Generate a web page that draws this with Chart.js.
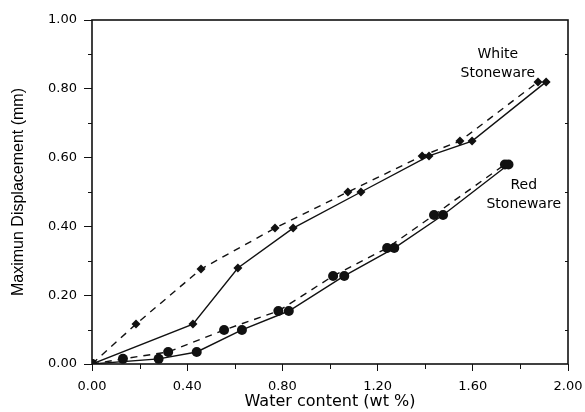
<!DOCTYPE html>
<html><head><meta charset="utf-8">
<script src="https://cdn.jsdelivr.net/npm/chart.js@4/dist/chart.umd.min.js"></script>
<style>html,body{margin:0;padding:0;background:#fff}#wrap{width:585px;height:412px}</style>
</head><body><div id="wrap"><canvas id="c" width="585" height="412"></canvas></div>
<script>
// White Stoneware
const whiteSolidX = [0, 0.424, 0.613, 0.845, 1.13, 1.416, 1.597, 1.908];
const whiteSolidY = [0, 0.116, 0.279, 0.395, 0.50, 0.605, 0.648, 0.82];
const whiteDashX = [0, 0.185, 0.458, 0.769, 1.075, 1.387, 1.546, 1.874];
const whiteDashY = [0, 0.116, 0.276, 0.395, 0.50, 0.605, 0.648, 0.82];
// Red Stoneware
const redSolidX = [0, 0.28, 0.44, 0.63, 0.827, 1.06, 1.27, 1.475, 1.75];
const redSolidY = [0, 0.015, 0.035, 0.099, 0.154, 0.256, 0.337, 0.433, 0.58];
const redDashX = [0, 0.13, 0.32, 0.555, 0.783, 1.013, 1.24, 1.437, 1.735];
const redDashY = [0, 0.015, 0.035, 0.099, 0.154, 0.256, 0.337, 0.433, 0.58];
const xTicks = [0, 0.4, 0.8, 1.2, 1.6, 2.0];
const yTicks = [0, 0.2, 0.4, 0.6, 0.8, 1.0];
const labels = [
  {text: 'White', x: 1.705, y: 0.90},
  {text: 'Stoneware', x: 1.705, y: 0.845},
  {text: 'Red', x: 1.814, y: 0.52},
  {text: 'Stoneware', x: 1.814, y: 0.465}
];

const pts = (xs, ys) => xs.map((x, i) => ({x, y: ys[i]}));
const ink = '#111';
const wide = '"DejaVu Sans", sans-serif';

const frame = {
  id: 'frame',
  afterDraw(chart) {
    const {ctx, chartArea: a, scales: {x, y}} = chart;
    ctx.save();
    ctx.strokeStyle = ink; ctx.lineWidth = 1.6;
    ctx.strokeRect(a.left, a.top, a.right - a.left, a.bottom - a.top);
    ctx.lineWidth = 1;
    for (let v = 0.1; v < 1; v += 0.2) {
      const py = Math.round(y.getPixelForValue(v)) + 0.5;
      ctx.beginPath(); ctx.moveTo(a.left - 4, py); ctx.lineTo(a.left, py); ctx.stroke();
      ctx.beginPath(); ctx.moveTo(a.right, py); ctx.lineTo(a.right - 3, py); ctx.stroke();
    }
    for (let v = 0.2; v < 2; v += 0.4) {
      const px = Math.round(x.getPixelForValue(v)) + 0.5;
      ctx.beginPath(); ctx.moveTo(px, a.bottom); ctx.lineTo(px, a.bottom + 5); ctx.stroke();
    }
    ctx.fillStyle = '#000';
    ctx.font = '14px ' + wide;
    ctx.textAlign = 'center'; ctx.textBaseline = 'middle';
    labels.forEach(l => ctx.fillText(l.text, x.getPixelForValue(l.x), y.getPixelForValue(l.y)));
    ctx.restore();
  }
};

const base = {showLine: true, borderColor: ink, backgroundColor: ink, borderWidth: 1.4, pointBorderWidth: 0, pointBackgroundColor: ink};

new Chart(document.getElementById('c'), {
  type: 'scatter',
  data: {datasets: [
    Object.assign({}, base, {data: pts(whiteSolidX, whiteSolidY), pointStyle: 'rectRot', pointRadius: 4.5}),
    Object.assign({}, base, {data: pts(whiteDashX, whiteDashY), pointStyle: 'rectRot', pointRadius: 4.5, borderDash: [7, 6]}),
    Object.assign({}, base, {data: pts(redSolidX, redSolidY), pointStyle: 'circle', pointRadius: 5}),
    Object.assign({}, base, {data: pts(redDashX, redDashY), pointStyle: 'circle', pointRadius: 5, borderDash: [7, 6]})
  ]},
  options: {
    responsive: false, animation: false,
    layout: {padding: {left: 0, right: 17, top: 20, bottom: 0}},
    plugins: {legend: {display: false}, tooltip: {enabled: false}},
    scales: {
      x: {
        type: 'linear', min: 0, max: 2,
        afterBuildTicks: s => { s.ticks = xTicks.map(v => ({value: v})); },
        afterFit: s => { s.height = 48; s.paddingLeft = 0; s.paddingRight = 0; },
        grid: {drawOnChartArea: false, tickLength: 7, color: ink, tickWidth: 1},
        border: {display: false},
        ticks: {color: '#000', font: {family: wide, size: 13}, padding: 8, callback: v => v.toFixed(2), maxRotation: 0},
        title: {display: true, text: 'Water content (wt %)', color: '#000', font: {family: wide, size: 16}, padding: {top: 0, bottom: 1}}
      },
      y: {
        type: 'linear', min: 0, max: 1,
        afterBuildTicks: s => { s.ticks = yTicks.map(v => ({value: v})); },
        afterFit: s => { s.width = 92; s.paddingTop = 0; s.paddingBottom = 0; },
        grid: {drawOnChartArea: false, tickLength: 8, color: ink, tickWidth: 1},
        border: {display: false},
        ticks: {color: '#000', font: {family: wide, size: 13}, padding: 7, callback: v => v.toFixed(2)},
        title: {display: true, text: 'Maximun Displacement (mm)', color: '#000', font: {family: '"Liberation Sans", Arial', size: 16}, padding: {top: 9, bottom: 0}}
      }
    }
  },
  plugins: [frame]
});
</script></body></html>
